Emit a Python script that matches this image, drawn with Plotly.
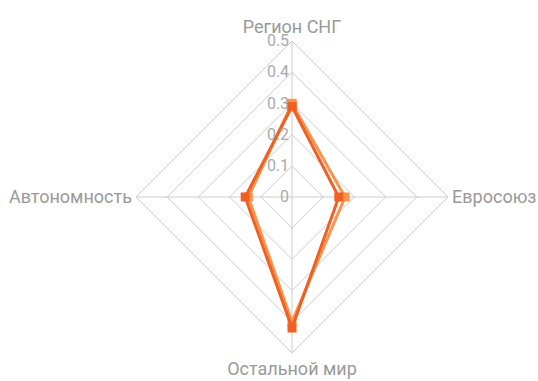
import plotly.graph_objects as go

categories = ["Регион СНГ", "Евросоюз", "Остальной мир", "Автономность"]
series_light = [0.30, 0.17, 0.40, 0.14]
series_dark = [0.29, 0.15, 0.42, 0.15]
radial_ticks = [0, 0.1, 0.2, 0.3, 0.4, 0.5]

LIGHT = "#F7944D"
DARK = "#F15F22"
GRID = "#CCCCCC"
TEXT = "#999999"


def closed(values):
    return list(values) + [values[0]]


fig = go.Figure()
for vals, color in [(series_light, LIGHT), (series_dark, DARK)]:
    fig.add_trace(go.Scatterpolar(
        r=closed(vals),
        theta=closed(categories),
        mode="lines+markers",
        line=dict(color=color, width=3),
        marker=dict(symbol="square", size=9, color=color),
        showlegend=False,
        hoverinfo="skip",
    ))

fig.update_layout(
    width=538,
    height=381,
    margin=dict(l=136, r=90, t=41, b=28),
    paper_bgcolor="white",
    plot_bgcolor="white",
    font=dict(family="Roboto, sans-serif", color=TEXT, size=18),
    polar=dict(
        bgcolor="white",
        gridshape="linear",
        angularaxis=dict(
            rotation=90,
            direction="clockwise",
            showline=True,
            linecolor=GRID,
            linewidth=1,
            gridcolor=GRID,
            gridwidth=1,
            ticks="",
            tickfont=dict(size=18, color=TEXT),
        ),
        radialaxis=dict(
            range=[0, 0.5],
            tickvals=radial_ticks,
            ticktext=[f"{v:g}" for v in radial_ticks],
            angle=90,
            tickangle=90,
            side="counterclockwise",
            showline=False,
            gridcolor=GRID,
            gridwidth=1,
            ticks="",
            tickfont=dict(size=16, color="#AAAAAA"),
        ),
    ),
)

fig.write_html("out.html")
